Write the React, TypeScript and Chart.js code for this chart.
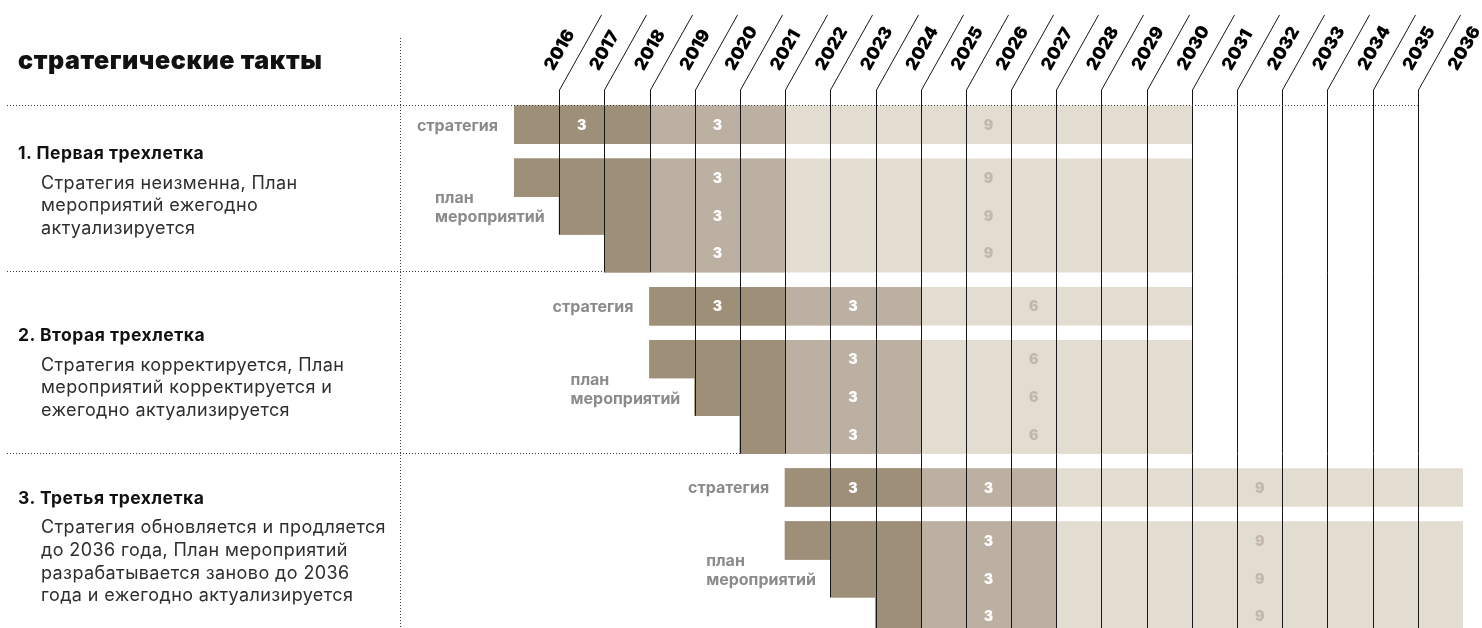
import React, { useEffect, useRef } from "react";
import { Chart, registerables } from "chart.js";

Chart.register(...registerables);

// ---------- data ----------
const chartTitle = "стратегические такты";
const yearLabels = [
  "2016", "2017", "2018", "2019", "2020", "2021", "2022", "2023", "2024", "2025", "2026",
  "2027", "2028", "2029", "2030", "2031", "2032", "2033", "2034", "2035", "2036",
];
// one entry per three-year cycle
const strategyStart = [2016, 2019, 2022];
const darkPhaseEnd = [2019, 2022, 2025];
const mediumPhaseEnd = [2022, 2025, 2028];
const horizonEnd = [2031, 2031, 2037];
const planRowOffsets = [0, 1, 2]; // plan rows begin 0, 1, 2 years after the strategy
const groupTitles = ["1. Первая трехлетка", "2. Вторая трехлетка", "3. Третья трехлетка"];
const groupDescriptions = [
  ["Стратегия неизменна, План", "мероприятий ежегодно", "актуализируется"],
  ["Стратегия корректируется, План", "мероприятий корректируется и", "ежегодно актуализируется"],
  [
    "Стратегия обновляется и продляется",
    "до 2036 года, План мероприятий",
    "разрабатывается заново до 2036",
    "года и ежегодно актуализируется",
  ],
];
const strategyLabel = "стратегия";
const planLabel = ["план", "мероприятий"];

// ---------- styles / layout ----------
const FONT = "Inter, 'Noto Sans', 'DejaVu Sans', sans-serif";
const COLORS = {
  dark: "#9e8f78",
  medium: "#bbb0a1",
  light: "#e3ddd1",
  lightText: "#c2b8a9",
  label: "#8b8b8b",
  line: "#161616",
  dots: "#3c3c3c",
};
const GROUP_STEP = 4.8;
const STRAT_GAP = 1.4;
const Y_MIN = -0.55;
const Y_MAX = 13.315;
const titleTops = [144.1, 325.6, 488.6];
const descTops = [171.6, 353.6, 516.3];

function rowPos(g: number, k: number) {
  return g * GROUP_STEP + (k < 0 ? 0 : STRAT_GAP + k);
}

type Row = { g: number; k: number; start: number };
const rows: Row[] = [];
strategyStart.forEach((s, g) => {
  rows.push({ g, k: -1, start: s });
  planRowOffsets.forEach((o, k) => rows.push({ g, k, start: s + o }));
});

const darkData = rows.map((r) => ({ x: [r.start, darkPhaseEnd[r.g]], y: rowPos(r.g, r.k) }));
const mediumData = rows.map((r) => ({ x: [r.start, mediumPhaseEnd[r.g]], y: rowPos(r.g, r.k) }));
const lightData = rows.map((r) => ({ x: [r.start, horizonEnd[r.g]], y: rowPos(r.g, r.k) }));

const overlayPlugin = {
  id: "overlay",
  afterDatasetsDraw(chart: any) {
    const { ctx, chartArea: ca } = chart;
    const xs = chart.scales.x;
    const ys = chart.scales.y;
    const X = (v: number) => xs.getPixelForValue(v);
    const Y = (v: number) => ys.getPixelForValue(v);
    const last = strategyStart.length - 1;
    const lastRow = planRowOffsets.length - 1;
    ctx.save();

    // year boundary lines
    ctx.strokeStyle = COLORS.line;
    ctx.lineWidth = 1;
    ctx.setLineDash([]);
    for (let b = strategyStart[0] + 1; b < horizonEnd[last]; b++) {
      const x = Math.round(X(b)) + 0.5;
      ctx.beginPath();
      ctx.moveTo(x + 42, 15);
      ctx.lineTo(x, ca.top - 14);
      ctx.lineTo(x, ca.top);
      ctx.stroke();
      strategyStart.forEach((gs, g) => {
        if (b <= gs) return;
        let lastK = -1;
        planRowOffsets.forEach((o, k) => {
          if (gs + o <= b) lastK = k;
        });
        const top = g === 0 ? ca.top : Y(rowPos(g - 1, lastRow) + 0.5);
        const bottom = Math.min(ca.bottom, Y(rowPos(g, lastK) + 0.5));
        ctx.beginPath();
        ctx.moveTo(x, top);
        ctx.lineTo(x, bottom);
        ctx.stroke();
      });
    }

    // dotted separators
    ctx.strokeStyle = COLORS.dots;
    ctx.setLineDash([1, 2]);
    const hline = (x1: number, x2: number, y: number) => {
      ctx.beginPath();
      ctx.moveTo(x1, y);
      ctx.lineTo(x2, y);
      ctx.stroke();
    };
    hline(7, X(horizonEnd[last] - 1), Math.round(Y(rowPos(0, -1) - 0.5)) - 0.5);
    for (let g = 0; g < last; g++) {
      const y = Math.round(Y(rowPos(g, lastRow) + 0.5)) - 0.5;
      hline(7, X(strategyStart[g] + planRowOffsets[lastRow]), y);
    }
    ctx.beginPath();
    ctx.moveTo(400.5, 38);
    ctx.lineTo(400.5, ca.bottom);
    ctx.stroke();
    ctx.setLineDash([]);

    // numbers inside bars
    ctx.textAlign = "center";
    ctx.textBaseline = "middle";
    ctx.font = `900 14px ${FONT}`;
    rows.forEach((r) => {
      const g = r.g;
      const phases = [
        { from: strategyStart[g], to: darkPhaseEnd[g], color: "#ffffff", show: r.k < 0 },
        { from: darkPhaseEnd[g], to: mediumPhaseEnd[g], color: "#ffffff", show: true },
        { from: mediumPhaseEnd[g], to: horizonEnd[g], color: COLORS.lightText, show: true },
      ];
      phases.forEach((p) => {
        if (!p.show) return;
        const n = p.to - p.from;
        const col = p.from + Math.ceil(n / 2) - 1 + 0.5;
        ctx.fillStyle = p.color;
        ctx.fillText(String(n), X(col), Y(rowPos(g, r.k)) + 1);
      });
    });

    // row labels
    ctx.fillStyle = COLORS.label;
    ctx.font = `700 16px ${FONT}`;
    strategyStart.forEach((gs, g) => {
      ctx.textAlign = "right";
      ctx.fillText(strategyLabel, X(gs) - 16, Y(rowPos(g, -1)) + 1);
      ctx.textAlign = "left";
      const yb = Y(rowPos(g, 0) + 0.5);
      ctx.fillText(planLabel[0], X(gs) - 79, yb + 2);
      ctx.fillText(planLabel[1], X(gs) - 79, yb + 21);
    });
    ctx.restore();
  },
};

export default function App() {
  const ref = useRef<HTMLCanvasElement>(null);
  useEffect(() => {
    const chart = new Chart(ref.current as HTMLCanvasElement, {
      type: "bar",
      data: {
        datasets: [
          { data: darkData as any, backgroundColor: COLORS.dark },
          { data: mediumData as any, backgroundColor: COLORS.medium },
          { data: lightData as any, backgroundColor: COLORS.light },
        ],
      },
      options: {
        indexAxis: "y",
        responsive: false,
        animation: false,
        events: [],
        layout: { padding: { left: 514, right: 19, top: 0, bottom: 0 } },
        datasets: {
          bar: { grouped: false, categoryPercentage: 1, barPercentage: 1, borderWidth: 0 } as any,
        },
        plugins: { legend: { display: false }, tooltip: { enabled: false } },
        scales: {
          x: { type: "linear", min: 2016, max: 2037, display: false, offset: false },
          y: {
            type: "linear",
            reverse: true,
            min: Y_MIN,
            max: Y_MAX,
            display: false,
            offset: false,
            ticks: { count: 2 },
          },
          x2: {
            type: "category",
            axis: "x",
            position: "top",
            labels: yearLabels,
            offset: true,
            grid: { display: false, drawTicks: false },
            border: { display: false },
            ticks: {
              autoSkip: false,
              minRotation: 60,
              maxRotation: 60,
              padding: 30,
              labelOffset: 30.5,
              color: "#000",
              font: { family: FONT, weight: "900", size: 17.5 },
            },
            afterFit: (s: any) => {
              s.height = 104;
              s.paddingLeft = 0;
              s.paddingRight = 0;
            },
          } as any,
        },
      },
      plugins: [overlayPlugin],
    });
    return () => chart.destroy();
  }, []);

  const abs = { position: "absolute" as const, whiteSpace: "nowrap" as const };
  return (
    <div
      style={{
        position: "fixed",
        left: 0,
        top: 0,
        width: 1482,
        height: 628,
        background: "#fff",
        overflow: "hidden",
        fontFamily: FONT,
      }}
    >
      <canvas ref={ref} width={1482} height={628} style={{ position: "absolute", left: 0, top: 0 }} />
      <div style={{ ...abs, left: 18, top: 48, fontSize: 25, lineHeight: "25px", fontWeight: 900, color: "#111", letterSpacing: 0.6 }}>
        {chartTitle}
      </div>
      {groupTitles.map((t, g) => (
        <div
          key={"t" + g}
          style={{ ...abs, left: 18, top: titleTops[g], fontSize: 17.5, lineHeight: "17.5px", fontWeight: 700, color: "#111", letterSpacing: 0.5 }}
        >
          {t}
        </div>
      ))}
      {groupDescriptions.map((lines, g) => (
        <div
          key={"d" + g}
          style={{ ...abs, left: 41, top: descTops[g], fontSize: 18, lineHeight: "22.7px", fontWeight: 400, color: "#2e2e2e", letterSpacing: 0.4 }}
        >
          {lines.map((l, i) => (
            <div key={i}>{l}</div>
          ))}
        </div>
      ))}
    </div>
  );
}
